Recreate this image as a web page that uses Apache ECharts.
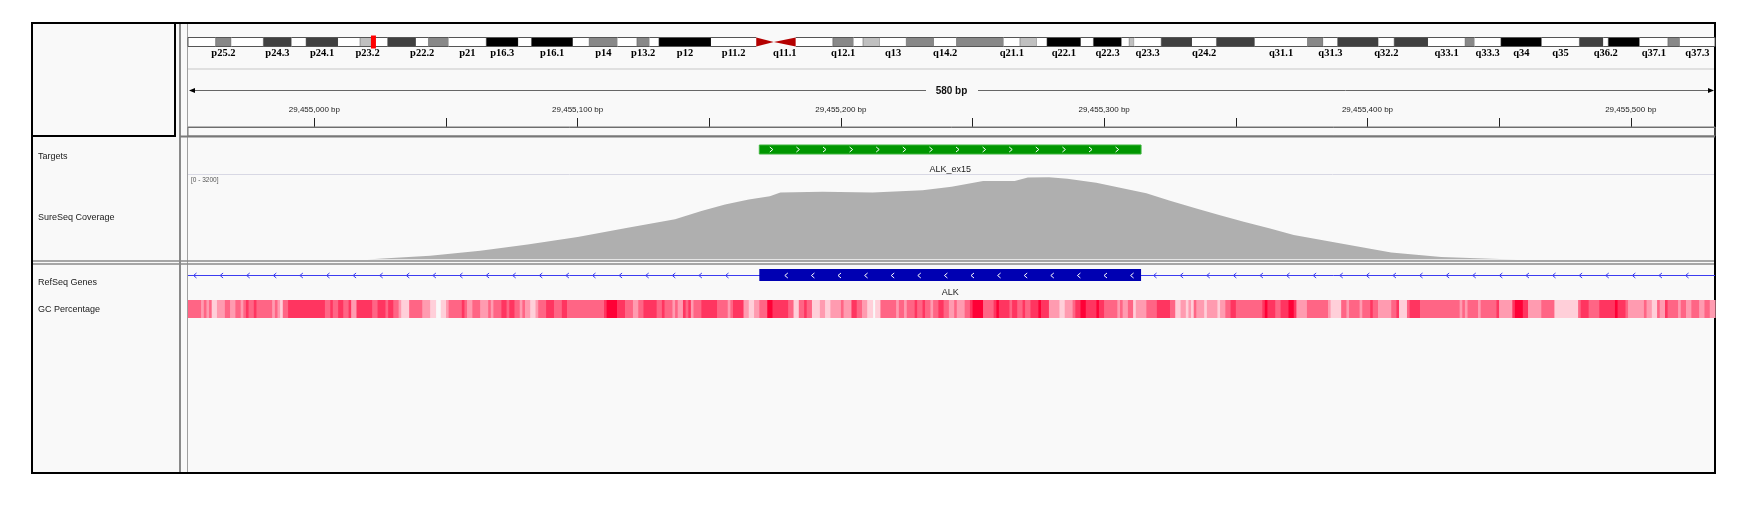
<!DOCTYPE html>
<html>
<head>
<meta charset="utf-8">
<script src="https://cdn.jsdelivr.net/npm/echarts@6/dist/echarts.min.js"></script>
<style>
  html, body { margin: 0; padding: 0; background: #fff; }
  #main { width: 1750px; height: 508px; }
</style>
</head>
<body>
<div id="main"></div>
<script>
// chr2 view window
var viewStart = 29454952;
var viewEnd = 29455532;
var chromLength = 243.2;   // Mb
var markerPos = 29.455;    // Mb, current view on the ideogram

// chr2 cytobands (Mb)
var bandNames = ['p25.3','p25.2','p25.1','p24.3','p24.2','p24.1','p23.3','p23.2','p23.1','p22.3','p22.2','p22.1','p21','p16.3','p16.2','p16.1','p15','p14','p13.3','p13.2','p13.1','p12','p11.2','p11.1','q11.1','q11.2','q12.1','q12.2','q12.3','q13','q14.1','q14.2','q14.3','q21.1','q21.2','q21.3','q22.1','q22.2','q22.3','q23.1','q23.2','q23.3','q24.1','q24.2','q24.3','q31.1','q31.2','q31.3','q32.1','q32.2','q32.3','q33.1','q33.2','q33.3','q34','q35','q36.1','q36.2','q36.3','q37.1','q37.2','q37.3'];
var bandStart = [0,4.4,6.9,12.0,16.5,18.8,23.9,27.4,29.8,31.8,36.3,38.3,41.5,47.5,52.6,54.7,61.3,63.9,68.4,71.5,73.5,75.0,83.3,90.5,93.3,96.8,102.7,106.0,107.5,110.2,114.4,118.8,122.4,129.9,132.5,135.2,136.8,142.2,144.2,148.7,149.9,150.7,155.0,159.9,163.8,169.9,178.3,180.8,183.1,189.6,192.1,197.5,203.4,204.9,209.1,215.6,221.6,225.4,226.2,231.2,235.7,237.6];
var bandEnd = [4.4,6.9,12.0,16.5,18.8,23.9,27.4,29.8,31.8,36.3,38.3,41.5,47.5,52.6,54.7,61.3,63.9,68.4,71.5,73.5,75.0,83.3,90.5,93.3,96.8,102.7,106.0,107.5,110.2,114.4,118.8,122.4,129.9,132.5,135.2,136.8,142.2,144.2,148.7,149.9,150.7,155.0,159.9,163.8,169.9,178.3,180.8,183.1,189.6,192.1,197.5,203.4,204.9,209.1,215.6,221.6,225.4,226.2,231.2,235.7,237.6,243.2];
var bandStain = ['gneg','gpos50','gneg','gpos75','gneg','gpos75','gneg','gpos25','gneg','gpos75','gneg','gpos50','gneg','gpos100','gneg','gpos100','gneg','gpos50','gneg','gpos50','gneg','gpos100','gneg','acen','acen','gneg','gpos50','gneg','gpos25','gneg','gpos50','gneg','gpos50','gneg','gpos25','gneg','gpos100','gneg','gpos100','gneg','gpos25','gneg','gpos75','gneg','gpos75','gneg','gpos50','gneg','gpos75','gneg','gpos75','gneg','gpos50','gneg','gpos100','gneg','gpos75','gneg','gpos100','gneg','gpos50','gneg'];
var bandLabels = ['p25.2','p24.3','p24.1','p23.2','p22.2','p21','p16.3','p16.1','p14','p13.2','p12','p11.2','q11.1','q12.1','q13','q14.2','q21.1','q22.1','q22.3','q23.3','q24.2','q31.1','q31.3','q32.2','q33.1','q33.3','q34','q35','q36.2','q37.1','q37.3'];

// ruler
var rulerTicks = [29455000,29455050,29455100,29455150,29455200,29455250,29455300,29455350,29455400,29455450,29455500];
var rulerLabels = [29455000,29455100,29455200,29455300,29455400,29455500];

// features
var targetNames = ['ALK_ex15'];
var targetStart = [29455169];
var targetEnd = [29455314];
var geneNames = ['ALK'];
var exonStart = [29455169];
var exonEnd = [29455314];

// SureSeq coverage
var coverageMax = 3200;
var coveragePos = [29455020,29455026,29455044,29455063,29455081,29455100,29455119,29455137,29455147,29455156,29455165,29455173,29455177,29455193,29455212,29455231,29455242,29455254,29455266,29455271,29455279,29455286,29455297,29455316,29455325,29455335,29455344,29455353,29455363,29455372,29455391,29455409,29455428,29455447,29455457];
var coverageDepth = [0,40,140,330,565,850,1200,1520,1830,2070,2260,2380,2520,2550,2520,2610,2740,2960,2960,3090,3100,3040,2890,2490,2210,1920,1670,1420,1170,920,580,265,90,25,0];

// GC percentage, runs of bases from viewStart (null = no data)
var gcRunLength = [5,1,1,1,1,2,3,2,2,2,1,1,1,2,1,6,1,1,1,1,2,14,2,1,2,2,2,1,2,6,2,3,1,2,2,1,3,5,3,2,2,2,1,5,1,1,2,3,3,1,1,3,2,1,2,2,1,1,2,2,1,3,3,3,2,14,
  1,4,3,3,2,2,5,2,1,3,1,1,2,1,1,1,1,3,6,4,1,1,4,2,2,2,3,2,6,2,2,2,1,2,3,2,2,4,1,3,2,2,2,2,1,2,6,1,2,1,3,1,2,1,2,1,2,2,2,2,
  1,3,2,1,4,4,1,1,4,1,2,2,1,2,3,1,3,4,2,3,1,2,2,4,1,2,5,1,1,2,2,1,4,4,5,2,2,2,1,1,1,1,3,1,4,1,2,2,2,10,1,1,3,2,3,2,1,4,8,1,2,
  2,2,1,4,1,3,1,2,5,2,1,3,1,4,15,1,1,1,4,1,6,1,5,1,3,2,5,5,9,1,3,4,6,1,3,1,6,1,2,2,1,2,1,4,1,2,2,3,2,2,2];
var gcRunPercent = [50,42,50,42,50,34,42,50,42,50,42,50,58,50,58,50,42,50,42,34,50,58,50,58,50,58,50,58,42,58,50,58,50,58,50,42,34,50,42,34,null,34,42,50,58,50,42,50,42,50,42,50,58,50,58,50,42,50,42,34,42,50,58,50,58,50,
  58,66,58,50,42,50,58,50,58,50,42,50,42,58,50,58,42,50,58,50,42,50,58,42,34,42,50,66,58,50,34,50,58,50,34,42,34,42,50,42,58,50,42,34,null,34,50,42,50,42,50,58,50,58,50,42,50,58,50,42,
  50,42,50,58,66,50,58,66,58,50,58,50,58,50,58,66,58,42,34,42,50,58,66,58,66,58,50,42,50,42,50,34,42,50,58,50,34,42,34,42,34,50,42,34,42,34,42,50,58,50,58,66,58,50,58,66,58,42,50,42,34,
  34,50,42,50,42,50,58,50,42,50,58,34,50,58,50,42,50,42,50,42,50,58,42,58,66,58,42,50,34,50,58,50,58,66,58,50,42,50,42,34,50,42,58,50,42,50,42,50,42,50,42];

var trackNames = ['Targets', 'SureSeq Coverage', 'RefSeq Genes', 'GC Percentage'];
var trackNameY = [157, 218, 283, 310];

var stainColor = { gneg: '#ffffff', gpos25: '#c0c0c0', gpos50: '#888888', gpos75: '#404040', gpos100: '#000000', acen: '#b40000' };

var bandData = bandNames.map(function (n, i) { return [bandStart[i], bandEnd[i], i]; });
var targetData = targetNames.map(function (n, i) { return [targetStart[i], targetEnd[i], i]; });
var geneData = geneNames.map(function (n, i) { return [exonStart[i], exonEnd[i], i]; });
var coverageData = coveragePos.map(function (p, i) { return [p, coverageDepth[i]]; });
var gcData = [];
var pos = viewStart;
gcRunLength.forEach(function (len, i) {
  if (gcRunPercent[i] !== null) gcData.push([pos, pos + len, gcRunPercent[i]]);
  pos += len;
});

function fmtBp(v) {
  return String(v).replace(/\B(?=(\d{3})+(?!\d))/g, ',') + ' bp';
}

function renderBand(params, api) {
  var i = api.value(2);
  var a = api.coord([api.value(0), 1]);
  var b = api.coord([api.value(1), 0]);
  var x0 = a[0], x1 = b[0], y0 = a[1], y1 = b[1], cy = (y0 + y1) / 2;
  var stain = bandStain[i];
  var children = [];
  if (stain === 'acen') {
    var pts = bandNames[i].charAt(0) === 'p'
      ? [[x0, y0], [x1, cy], [x0, y1]]
      : [[x1, y0], [x0, cy], [x1, y1]];
    children.push({ type: 'polygon', shape: { points: pts }, style: { fill: stainColor.acen } });
  } else {
    children.push({ type: 'rect', shape: { x: x0, y: y0, width: x1 - x0, height: y1 - y0 },
      style: { fill: stainColor[stain], stroke: stain === 'gneg' ? null : '#555', lineWidth: 0.5 } });
    children.push({ type: 'line', shape: { x1: x0, y1: y0, x2: x1, y2: y0 }, style: { stroke: '#555', lineWidth: 1 } });
    children.push({ type: 'line', shape: { x1: x0, y1: y1, x2: x1, y2: y1 }, style: { stroke: '#555', lineWidth: 1 } });
  }
  if (i === 0) children.push({ type: 'line', shape: { x1: x0, y1: y0, x2: x0, y2: y1 }, style: { stroke: '#555', lineWidth: 1 } });
  if (i === bandNames.length - 1) children.push({ type: 'line', shape: { x1: x1, y1: y0, x2: x1, y2: y1 }, style: { stroke: '#555', lineWidth: 1 } });
  if (bandLabels.indexOf(bandNames[i]) >= 0) {
    children.push({ type: 'text', x: (x0 + x1) / 2, y: y1 + 1.5,
      style: { text: bandNames[i], fill: '#000', font: 'bold 10.5px "Liberation Serif"', align: 'center', verticalAlign: 'top' } });
  }
  return { type: 'group', children: children };
}

function renderMarker(params, api) {
  var c = api.coord([api.value(0), 1]);
  var d = api.coord([api.value(0), 0]);
  return { type: 'rect', shape: { x: c[0] - 2, y: c[1] - 2, width: 5, height: d[1] - c[1] + 4 }, style: { fill: '#ff0000' } };
}

function renderTarget(params, api) {
  var a = api.coord([api.value(0), 1]);
  var b = api.coord([api.value(1), 0]);
  var x0 = a[0], x1 = b[0], y0 = a[1], y1 = b[1], cy = (y0 + y1) / 2;
  var children = [{ type: 'rect', shape: { x: x0, y: y0, width: x1 - x0, height: y1 - y0 },
    style: { fill: '#009600', stroke: '#3cb43c', lineWidth: 1 } }];
  for (var cx = x0 + 12; cx < x1 - 6; cx += 26.6) {
    children.push({ type: 'polyline', shape: { points: [[cx - 1.5, cy - 2.5], [cx + 1.5, cy], [cx - 1.5, cy + 2.5]] },
      style: { stroke: '#fff', lineWidth: 1, fill: null } });
  }
  children.push({ type: 'text', x: (x0 + x1) / 2, y: y1 + 16,
    style: { text: targetNames[api.value(2)], fill: '#222', font: '9px "Liberation Sans"', align: 'center', verticalAlign: 'middle' } });
  return { type: 'group', children: children };
}

function renderGene(params, api) {
  var cs = params.coordSys;
  var a = api.coord([api.value(0), 1]);
  var b = api.coord([api.value(1), 0]);
  var x0 = a[0], x1 = b[0], y0 = a[1], y1 = b[1], cy = Math.round((y0 + y1) / 2) + 0.5;
  var blue = '#3c3cf0';
  var children = [{ type: 'line', shape: { x1: cs.x, y1: cy, x2: cs.x + cs.width, y2: cy }, style: { stroke: blue, lineWidth: 1 } }];
  var introns = [[cs.x + 7, x0 - 8], [x1 + 14, cs.x + cs.width - 8]];
  introns.forEach(function (seg) {
    for (var cx = seg[0]; cx < seg[1]; cx += 26.6) {
      children.push({ type: 'polyline', shape: { points: [[cx + 1.5, cy - 2.5], [cx - 1.5, cy], [cx + 1.5, cy + 2.5]] },
        style: { stroke: blue, lineWidth: 1, fill: null } });
    }
  });
  children.push({ type: 'rect', shape: { x: x0, y: y0, width: x1 - x0, height: y1 - y0 }, style: { fill: '#0000b2' } });
  for (var ex = x0 + 27; ex < x1 - 4; ex += 26.6) {
    children.push({ type: 'polyline', shape: { points: [[ex + 1.5, cy - 2.5], [ex - 1.5, cy], [ex + 1.5, cy + 2.5]] },
      style: { stroke: '#fff', lineWidth: 1, fill: null } });
  }
  children.push({ type: 'text', x: (x0 + x1) / 2, y: y1 + 12,
    style: { text: geneNames[api.value(2)], fill: '#222', font: '9px "Liberation Sans"', align: 'center', verticalAlign: 'middle' } });
  return { type: 'group', children: children };
}

function renderGc(params, api) {
  var a = api.coord([api.value(0), 1]);
  var b = api.coord([api.value(1), 0]);
  return { type: 'rect', shape: { x: a[0], y: a[1], width: b[0] - a[0] + 0.6, height: b[1] - a[1] },
    style: { fill: api.visual('color') } };
}

var L = 188, W = 1527;
var chart = echarts.init(document.getElementById('main'), null, { renderer: 'canvas' });

var graphics = [
  { type: 'rect', z: -10, shape: { x: 32, y: 23, width: 1683, height: 450 }, style: { fill: '#f9f9f9', stroke: '#000', lineWidth: 2 } },
  { type: 'rect', z: 10, shape: { x: 32, y: 23, width: 143, height: 113 }, style: { fill: null, stroke: '#000', lineWidth: 2 } },
  { type: 'line', z: 1, shape: { x1: 180, y1: 24, x2: 180, y2: 472 }, style: { stroke: '#8a8a8a', lineWidth: 2 } },
  { type: 'line', z: 1, shape: { x1: 187.5, y1: 24, x2: 187.5, y2: 472 }, style: { stroke: '#a0a0a0', lineWidth: 1 } },
  { type: 'line', z: 1, shape: { x1: 180, y1: 136.5, x2: 1715, y2: 136.5 }, style: { stroke: '#7a7a7a', lineWidth: 2 } },
  { type: 'line', z: 1, shape: { x1: 188, y1: 69, x2: 1714, y2: 69 }, style: { stroke: '#e0e0e0', lineWidth: 2 } },
  { type: 'rect', z: 1, shape: { x: 188, y: 127, width: 1527, height: 9 }, style: { fill: null, stroke: '#777', lineWidth: 1 } },
  { type: 'line', z: 1, shape: { x1: 188, y1: 174.5, x2: 1714, y2: 174.5 }, style: { stroke: '#d8d8e4', lineWidth: 1 } },
  { type: 'line', z: 5, shape: { x1: 33, y1: 261, x2: 1714, y2: 261 }, style: { stroke: '#8a8a8a', lineWidth: 1.5 } },
  { type: 'line', z: 5, shape: { x1: 33, y1: 264, x2: 1714, y2: 264 }, style: { stroke: '#8a8a8a', lineWidth: 1.5 } },
  // span ruler
  { type: 'line', z: 1, shape: { x1: 190, y1: 90.5, x2: 926, y2: 90.5 }, style: { stroke: '#666', lineWidth: 1 } },
  { type: 'line', z: 1, shape: { x1: 978, y1: 90.5, x2: 1713, y2: 90.5 }, style: { stroke: '#666', lineWidth: 1 } },
  { type: 'polygon', z: 1, shape: { points: [[189, 90.5], [195, 88], [195, 93]] }, style: { fill: '#000' } },
  { type: 'polygon', z: 1, shape: { points: [[1714, 90.5], [1708, 88], [1708, 93]] }, style: { fill: '#000' } },
  { type: 'text', z: 1, x: 951.5, y: 91, style: { text: (viewEnd - viewStart) + ' bp', fill: '#111', font: 'bold 10px "Liberation Sans"', align: 'center', verticalAlign: 'middle' } },
  { type: 'text', z: 5, x: 191, y: 180, style: { text: '[0 - ' + coverageMax + ']', fill: '#555', font: '6.5px "Liberation Sans"', verticalAlign: 'middle' } }
];
trackNames.forEach(function (n, i) {
  graphics.push({ type: 'text', z: 5, x: 38, y: trackNameY[i],
    style: { text: n, fill: '#1a1a1a', font: '9px "Liberation Sans"', verticalAlign: 'middle' } });
});

function hiddenX(idx) {
  return { gridIndex: idx, type: 'value', min: viewStart, max: viewEnd, show: false };
}
function hiddenY(idx, max) {
  return { gridIndex: idx, type: 'value', min: 0, max: max, show: false };
}

var option = {
  animation: false,
  backgroundColor: '#ffffff',
  graphic: graphics,
  grid: [
    { left: L, top: 37.5, width: W, height: 9 },
    { left: L, top: 100, width: W, height: 27 },
    { left: L, top: 145, width: W, height: 9 },
    { left: L, top: 174.5, width: W, height: 85 },
    { left: L, top: 269, width: W, height: 12 },
    { left: L, top: 300, width: W, height: 18 }
  ],
  xAxis: [
    { gridIndex: 0, type: 'value', min: 0, max: chromLength, show: false },
    {
      gridIndex: 1, type: 'value', min: viewStart, max: viewEnd, position: 'bottom',
      axisLine: { show: true, lineStyle: { color: '#666', width: 1 } },
      axisTick: { show: true, inside: true, length: 9, customValues: rulerTicks, lineStyle: { color: '#222' } },
      axisLabel: { show: true, inside: true, margin: 13, customValues: rulerLabels, formatter: fmtBp,
        fontSize: 8, color: '#222', fontFamily: 'Liberation Sans', verticalAlign: 'bottom' },
      splitLine: { show: false }
    },
    hiddenX(2), hiddenX(3), hiddenX(4), hiddenX(5)
  ],
  yAxis: [hiddenY(0, 1), hiddenY(1, 1), hiddenY(2, 1), hiddenY(3, coverageMax), hiddenY(4, 1), hiddenY(5, 1)],
  visualMap: {
    show: false, type: 'continuous', seriesIndex: 5, dimension: 2, min: 34, max: 66,
    inRange: { color: ['#ffcfd9', '#ff9bb0', '#ff6585', '#ff3560', '#ff0036'] }
  },
  series: [
    { type: 'custom', xAxisIndex: 0, yAxisIndex: 0, data: bandData, renderItem: renderBand, silent: true },
    { type: 'custom', xAxisIndex: 0, yAxisIndex: 0, data: [[markerPos]], renderItem: renderMarker, silent: true, z: 5 },
    { type: 'custom', xAxisIndex: 2, yAxisIndex: 2, data: targetData, renderItem: renderTarget, silent: true },
    {
      type: 'line', xAxisIndex: 3, yAxisIndex: 3, data: coverageData, symbol: 'none', silent: true,
      lineStyle: { width: 0, color: '#afafaf' }, areaStyle: { color: '#afafaf', opacity: 1 }
    },
    { type: 'custom', xAxisIndex: 4, yAxisIndex: 4, data: geneData, renderItem: renderGene, silent: true },
    { type: 'custom', xAxisIndex: 5, yAxisIndex: 5, data: gcData, renderItem: renderGc, silent: true }
  ]
};

chart.setOption(option);
</script>
</body>
</html>
